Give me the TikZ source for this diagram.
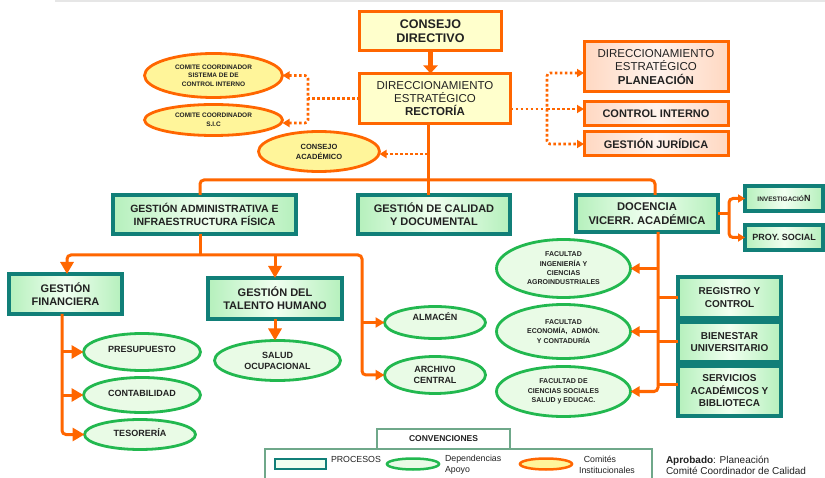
\documentclass[tikz,border=0pt]{standalone}
\usepackage{fontspec}
\setmainfont{Liberation Sans}
\usetikzlibrary{shapes.geometric,arrows.meta}
\definecolor{orng}{HTML}{FF6600}
\definecolor{yel}{HTML}{FFFFCC}
\definecolor{cmt}{HTML}{FFF59A}
\definecolor{peach}{HTML}{FFD8C2}
\definecolor{peachc}{HTML}{FFF3EC}
\definecolor{tealb}{HTML}{117F78}
\definecolor{gfill}{HTML}{B5F0BC}
\definecolor{gfillc}{HTML}{F0FFF0}
\definecolor{grn}{HTML}{22B84F}
\definecolor{gell}{HTML}{E9FBE6}
\definecolor{txt}{HTML}{222222}
\definecolor{legl}{HTML}{6FA88A}
\definecolor{topl}{HTML}{E6E6E6}
\newcommand{\fsz}[2]{\fontsize{#1}{#2}\selectfont}
\tikzset{
  tipsmall/.tip={Triangle[length=7pt,width=8pt]},
  tipmid/.tip={Triangle[length=9pt,width=10pt]},
  tipbig/.tip={Triangle[length=12pt,width=13pt]},
  obox/.style={draw=orng, line width=3pt, fill=yel, font=\bfseries\fsz{12.5}{14}},
  pbox/.style={draw=orng, line width=3pt, left color=peach, right color=peach, middle color=peachc},
  gbox/.style={draw=tealb, line width=3.2pt, left color=gfill, right color=gfill, middle color=gfillc, font=\bfseries\fsz{10.5}{13}},
  gell/.style={ellipse, draw=grn, line width=2.8pt, fill=gell, font=\bfseries\fsz{9}{11}},
  oell/.style={ellipse, draw=orng, line width=2.8pt, fill=cmt},
  conn/.style={draw=orng, line width=3pt, rounded corners=4pt},
  dconn/.style={draw=orng, line width=2.6pt, dash pattern=on 2.6pt off 2.4pt, rounded corners=3pt},
}
\begin{document}
\begin{tikzpicture}[x=1pt,y=-1pt, every node/.style={inner sep=0pt,outer sep=0pt,text=txt,align=center}]
\useasboundingbox (0,0) rectangle (825,478);
\fill[white] (0,0) rectangle (825,478);
\draw[topl, line width=1.5pt] (55,1) -- (825,1);

% top
\node[obox, minimum width=142pt, minimum height=39pt] (cd) at (430.5,31.5) {CONSEJO\\DIRECTIVO};
\node[obox, font=\fsz{11.5}{13}, minimum width=151pt, minimum height=50pt] (dr) at (435,98.5) {DIRECCIONAMIENTO\\ESTRATÉGICO\\\textbf{RECTORÍA}};

% comites
\node[oell, font=\bfseries\fsz{6.5}{8.3}, minimum width=138pt, minimum height=44pt] (c1) at (213.5,75.5) {COMITE COORDINADOR\\SISTEMA DE DE\\CONTROL INTERNO};
\node[oell, font=\bfseries\fsz{6.5}{8.5}, minimum width=138pt, minimum height=31pt] (c2) at (213.5,120) {COMITE COORDINADOR\\S.I.C};
\node[oell, font=\bfseries\fsz{7.5}{10}, minimum width=121pt, minimum height=40pt] (ca) at (319,151.5) {CONSEJO\\ACADÉMICO};

% right orange boxes
\node[pbox, font=\fsz{11.5}{12.5}, minimum width=144pt, minimum height=50pt] (pl) at (656,67) {DIRECCIONAMIENTO\\ESTRATÉGICO\\[1.5pt]\textbf{PLANEACIÓN}};
\node[pbox, font=\bfseries\fsz{11}{13}, minimum width=144pt, minimum height=24pt] (ci) at (656,114) {CONTROL INTERNO};
\node[pbox, font=\bfseries\fsz{11}{13}, minimum width=144pt, minimum height=24pt] (gj) at (656,144) {GESTIÓN JURÍDICA};

% middle row
\node[gbox, minimum width=183pt, minimum height=39pt] (ga) at (204.5,214.5) {GESTIÓN ADMINISTRATIVA E\\INFRAESTRUCTURA FÍSICA};
\node[gbox, font=\bfseries\fsz{11}{13}, minimum width=152pt, minimum height=39pt] (gc) at (434,214.5) {GESTIÓN DE CALIDAD\\Y DOCUMENTAL};
\node[gbox, font=\bfseries\fsz{11.2}{13.5}, minimum width=142pt, minimum height=37pt] (doc) at (647,213.5) {DOCENCIA\\VICERR. ACADÉMICA};
\node[gbox, minimum width=78pt, minimum height=25pt] (inv) at (784,198.5) {{\fsz{6.5}{8}INVESTIGACIÓ}{\fsz{9}{10}N}};
\node[gbox, font=\bfseries\fsz{9}{11}, minimum width=78pt, minimum height=25pt] (prs) at (784,237.5) {PROY. SOCIAL};

% lower left
\node[gbox, font=\bfseries\fsz{11}{13}, minimum width=113pt, minimum height=40pt] (gf) at (65.5,294) {GESTIÓN\\FINANCIERA};
\node[gbox, font=\bfseries\fsz{11}{13}, minimum width=134pt, minimum height=41pt] (th) at (275,298.5) {GESTIÓN DEL\\TALENTO HUMANO};
\node[gell, minimum width=117pt, minimum height=37pt] (ps) at (142,352) {\raisebox{3pt}[\height][\depth]{PRESUPUESTO}};
\node[gell, minimum width=117pt, minimum height=35pt] (cb) at (142,395) {\raisebox{2pt}[\height][\depth]{CONTABILIDAD}};
\node[gell, minimum width=111pt, minimum height=30pt] (ts) at (140,434.5) {\raisebox{2pt}[\height][\depth]{TESORERÍA}};
\node[gell, minimum width=126pt, minimum height=40pt] (so) at (277.5,360.5) {SALUD\\OCUPACIONAL};
\node[gell, minimum width=101pt, minimum height=32pt] (al) at (435,322.5) {\raisebox{6pt}[\height][\depth]{ALMACÉN}};
\node[gell, minimum width=101pt, minimum height=37pt] (ac) at (435,375) {ARCHIVO\\CENTRAL};

% faculties
\node[gell, font=\bfseries\fsz{7}{9.3}, minimum width=134pt, minimum height=58pt] (f1) at (563.5,268.5) {FACULTAD\\INGENIERÍA Y\\CIENCIAS\\AGROINDUSTRIALES};
\node[gell, font=\bfseries\fsz{7}{9.3}, minimum width=134pt, minimum height=54pt] (f2) at (563.5,331.5) {FACULTAD\\ECONOMÍA,\ \ ADMÓN.\\Y CONTADURÍA};
\node[gell, font=\bfseries\fsz{7}{9.6}, minimum width=134pt, minimum height=50pt] (f3) at (563.5,391.5) {FACULTAD DE\\CIENCIAS SOCIALES\\SALUD y EDUCAC.};

% right teal boxes
\node[gbox, font=\bfseries\fsz{10}{12.5}, minimum width=103pt, minimum height=41pt] (rc) at (729.5,297.5) {REGISTRO Y\\CONTROL};
\node[gbox, font=\bfseries\fsz{10}{12}, minimum width=103pt, minimum height=40pt] (bu) at (729.5,342) {BIENESTAR\\UNIVERSITARIO};
\node[gbox, font=\bfseries\fsz{10}{12.5}, minimum width=103pt, minimum height=50pt] (sa) at (729.5,391) {SERVICIOS\\ACADÉMICOS Y\\BIBLIOTECA};

% connectors top
\draw[orng, line width=5pt, -{Triangle[length=8pt,width=14pt]}] (cd.south) -- (cd.south |- dr.north);
\coordinate (dl) at (308,98.5);
\draw[dconn] (dr.west) -- (dl);
\draw[dconn, tipsmall-tipsmall] (c1.east) -| (dl) |- ([yshift=-3pt]c2.east);
\coordinate (tk) at (428,154);
\draw[dconn, -tipsmall] (tk) -- (tk -| ca.east);
\coordinate (dR) at (547,109);
\draw[dconn] (dr.east |- dR) -- (dR);
\draw[dconn, tipsmall-tipsmall] ([yshift=-6pt]pl.west) -| (dR) |- (gj.west);
\draw[dconn, -tipsmall] (dR) -- (dR -| ci.west);

% trunk and bus
\coordinate (bus) at (428,180);
\draw[conn] ([xshift=-7pt]dr.south) -- ([xshift=-6pt]gc.north);
\draw[conn] ([xshift=-4.5pt]ga.north) |- (bus) -| ([xshift=8pt]doc.north);

% docencia branches
\coordinate (dj) at (729,213.5);
\draw[conn] (doc.east) -- (dj);
\draw[conn, tipsmall-tipsmall] (inv.west) -| (dj) |- (prs.west);
\coordinate (dvt) at ([xshift=11pt]doc.south);
\draw[conn, -tipmid] (dvt) |- (f3.east);
\draw[conn, -tipmid] (dvt |- f1.east) -- (f1.east);
\draw[conn, -tipmid] (dvt |- f2.east) -- (f2.east);
\draw[conn] (dvt |- rc.west) -- (rc.west);
\draw[conn] (dvt |- bu.west) -- (bu.west);
\draw[conn] ([yshift=6pt]dvt |- sa.west) -- ([yshift=6pt]sa.west);

% lower left
\coordinate (lb) at (200,255);
\coordinate (lr) at (362,255);
\draw[conn] ([xshift=-4.5pt]ga.south) -- (lb);
\draw[conn, -tipbig] (lb) -| ([xshift=1.5pt]gf.north);
\draw[conn, -tipbig] (lb -| th.north) -- (th.north);
\draw[conn, -tipmid] (lb) -- (lr) |- (ac.west);
\draw[conn, -tipmid] (lr |- al.west) -- (al.west);
\draw[conn, -tipbig] (th.south) -- (th.south |- so.north);
\coordinate (gfv) at ([xshift=-3.5pt]gf.south);
\draw[conn, -tipbig] (gfv) |- (ts.west);
\draw[conn, -tipbig] (gfv |- ps.west) -- (ps.west);
\draw[conn, -tipbig] (gfv |- cb.west) -- (cb.west);

% legend
\node[draw=legl, line width=1.2pt, fill=white, minimum width=387pt, minimum height=50pt] (legbox) at (458.5,474) {};
\node[draw=legl, line width=1.2pt, fill=white, minimum width=133pt, minimum height=20pt, font=\bfseries\fsz{8.5}{10}] (conv) at (443.5,439) {CONVENCIONES};
\node[draw=tealb, line width=2.5pt, fill=gfillc, minimum width=51pt, minimum height=10pt] (lp) at (300.5,464) {};
\node[anchor=west, font=\fsz{8.8}{10}] (lpt) at (331,459.5) {PROCESOS};
\node[ellipse, draw=grn, line width=2.5pt, fill=gell, minimum width=52pt, minimum height=11pt] (lg) at (413,464) {};
\node[anchor=west, align=left, font=\fsz{8.8}{11}] (lgt) at (445,464.5) {Dependencias\\Apoyo};
\node[ellipse, draw=orng, line width=2.5pt, fill=cmt, minimum width=52pt, minimum height=11pt] (lo) at (546,464) {};
\node[font=\fsz{8.8}{10}] (lot1) at (600,459) {Comités};
\node[font=\fsz{8.8}{10}] (lot2) at (607,470) {Institucionales};
\node[anchor=west, align=left, font=\fsz{10}{11.5}] (apr) at (666,465.5) {\textbf{Aprobado}: Planeación\\Comité Coordinador de Calidad};
\end{tikzpicture}
\end{document}
